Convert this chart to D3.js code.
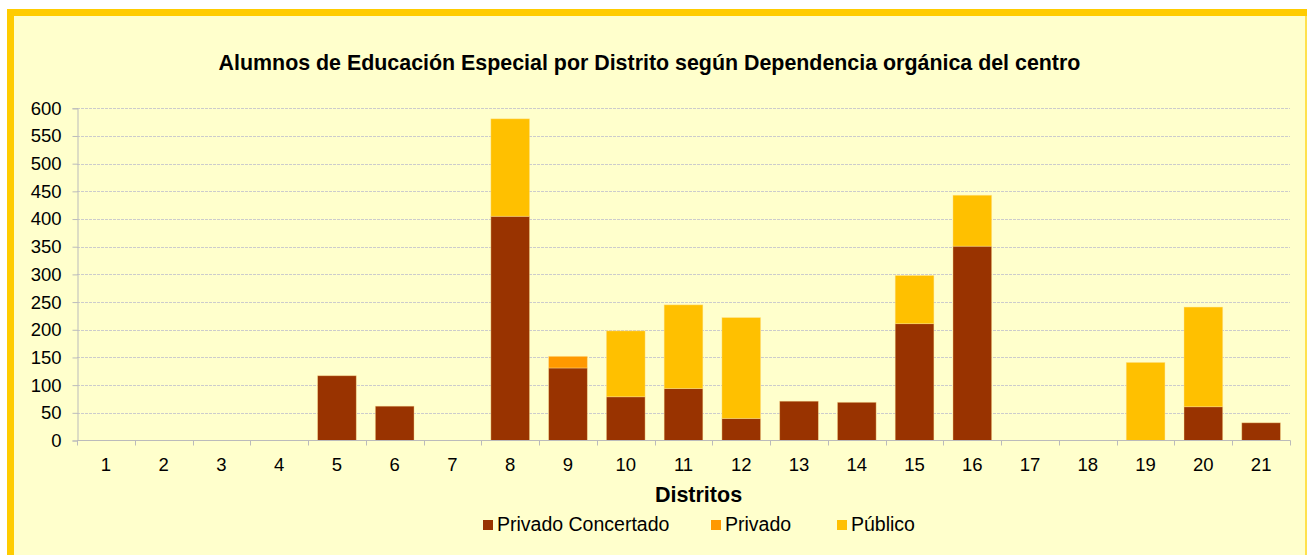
<!DOCTYPE html>
<html><head><meta charset="utf-8">
<script src="https://cdn.jsdelivr.net/npm/d3@7"></script>
<style>html,body{margin:0;padding:0;background:#fff;}svg{display:block;font-family:"Liberation Sans",Arial,sans-serif;}</style>
</head><body>
<script>
const categories = ["1","2","3","4","5","6","7","8","9","10","11","12","13","14","15","16","17","18","19","20","21"];
const privadoConcertado = [0,0,0,0,117,62,0,405,131,79,94,40,71,69,211,351,0,0,0,61,32];
const privado = [0,0,0,0,0,0,0,0,21,0,0,0,0,0,0,0,0,0,0,0,0];
const publico = [0,0,0,0,0,0,0,176,0,119,151,182,0,0,87,92,0,0,141,180,0];
const seriesNames = ["Privado Concertado","Privado","Público"];
const colors = ["#993300","#FF9900","#FFC000"];
const yTicks = [0,50,100,150,200,250,300,350,400,450,500,550,600];

const W = 1307, H = 555;
const svg = d3.select("body").append("svg").attr("width", W).attr("height", H);

// frame
svg.append("rect").attr("x", 10.5).attr("y", 12.5).attr("width", 1310).attr("height", 560)
  .attr("fill", "#FFFFCC").attr("stroke", "#FFCC00").attr("stroke-width", 7);
svg.append("rect").attr("x", 1305).attr("y", 16).attr("width", 2).attr("height", 540).attr("fill", "#FFE14D");

const L = 77, R = 1290, T = 108.3, B = 440.5;
const x = d3.scaleBand().domain(categories).range([L, R]).paddingInner(0.33).paddingOuter(0.165);
const xb = d3.scaleBand().domain(categories).range([L, R]);
const y = d3.scaleLinear().domain([0, 600]).range([B, T]);

// title
svg.append("text").attr("x", 649.5).attr("y", 70).attr("text-anchor", "middle")
  .attr("font-size", 21.4).attr("font-weight", "bold").attr("fill", "#000")
  .text("Alumnos de Educación Especial por Distrito según Dependencia orgánica del centro");

// gridlines
svg.append("g").selectAll("line").data(yTicks.filter(d => d > 0)).join("line")
  .attr("x1", L).attr("x2", R).attr("y1", d => Math.round(y(d)) + 0.5).attr("y2", d => Math.round(y(d)) + 0.5)
  .attr("stroke", "#CCCCCC").attr("stroke-width", 1).attr("stroke-dasharray", "3,1");

// stacked bars
const rows = categories.map((c, i) => ({cat: c, a: privadoConcertado[i], b: privado[i], c: publico[i]}));
const stack = d3.stack().keys(["a", "b", "c"])(rows);
svg.append("g").selectAll("g").data(stack).join("g").attr("fill", (d, i) => colors[i])
  .selectAll("rect").data(d => d.filter(s => s[1] - s[0] > 0)).join("rect")
  .attr("x", d => x(d.data.cat)).attr("width", x.bandwidth())
  .attr("y", d => y(d[1])).attr("height", d => y(d[0]) - y(d[1]))
  .attr("stroke", "rgba(255,230,150,0.5)").attr("stroke-width", 0.8);

// y axis
const yAxis = d3.axisLeft(y).tickValues(yTicks).tickSize(5).tickPadding(11);
const gy = svg.append("g").attr("transform", `translate(${L + 0.5},0)`).call(yAxis);
gy.select(".domain").attr("stroke", "#BBBBBB");
gy.selectAll(".tick line").attr("stroke", "#BBBBBB");
gy.selectAll(".tick text").attr("font-size", 18.5).attr("fill", "#000").attr("font-family", "Liberation Sans, Arial, sans-serif");

// x axis
const xAxis = d3.axisBottom(x).tickSize(0).tickPadding(17);
const gx = svg.append("g").attr("transform", `translate(0,${B})`).call(xAxis);
gx.select(".domain").remove();
gx.selectAll(".tick text").attr("font-size", 18.5).attr("fill", "#000").attr("font-family", "Liberation Sans, Arial, sans-serif");
svg.append("line").attr("x1", L).attr("x2", R + 0.5).attr("y1", B).attr("y2", B).attr("stroke", "#BBBBBB");
svg.append("g").selectAll("line").data(categories.concat(["end"])).join("line")
  .attr("x1", (d, i) => Math.round(i < categories.length ? xb(d) : R) + 0.5)
  .attr("x2", (d, i) => Math.round(i < categories.length ? xb(d) : R) + 0.5)
  .attr("y1", B).attr("y2", B + 5).attr("stroke", "#BBBBBB");

// x title
svg.append("text").attr("x", 698.5).attr("y", 502).attr("text-anchor", "middle")
  .attr("font-size", 21.5).attr("font-weight", "bold").text("Distritos");

// legend
const legX = [483, 711, 837];
const lg = svg.append("g").selectAll("g").data(seriesNames).join("g")
  .attr("transform", (d, i) => `translate(${legX[i]},520)`);
lg.append("rect").attr("width", 10).attr("height", 10).attr("fill", (d, i) => colors[i]);
lg.append("text").attr("x", 14).attr("y", 11).attr("font-size", 19.5).text(d => d);
</script>
</body></html>
